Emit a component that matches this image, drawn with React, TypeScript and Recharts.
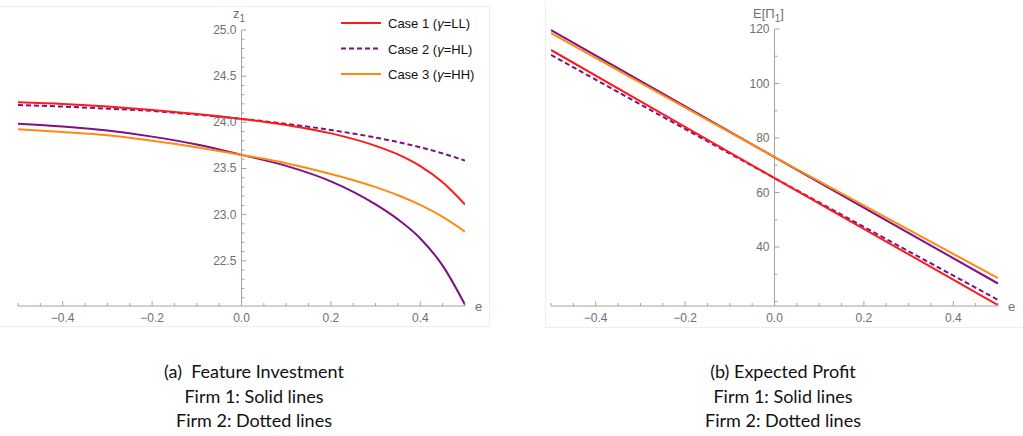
import React from 'react';
import { LineChart, Line, XAxis, YAxis, ReferenceLine } from 'recharts';

// ---------- data: (a) Feature Investment ----------
const eFeature = [-0.5, -0.4, -0.3, -0.2, -0.1, 0, 0.1, 0.2, 0.3, 0.35, 0.4, 0.45, 0.5];
const zCase1 = [24.217, 24.199, 24.17, 24.134, 24.09, 24.037, 23.972, 23.88, 23.745, 23.652, 23.525, 23.35, 23.11];
const zCase2Firm1 = [23.985, 23.955, 23.91, 23.845, 23.76, 23.647, 23.528, 23.36, 23.11, 22.948, 22.742, 22.447, 22.024];
const zCase2Firm2 = [24.188, 24.17, 24.148, 24.123, 24.083, 24.037, 23.983, 23.917, 23.835, 23.786, 23.729, 23.663, 23.585];
const zCase3 = [23.925, 23.895, 23.86, 23.8, 23.73, 23.647, 23.557, 23.44, 23.298, 23.21, 23.105, 22.975, 22.816];

// ---------- data: (b) Expected Profit ----------
const eProfit = [-0.5, -0.25, 0, 0.25, 0.5];
const pCase1 = [112.3, 88.8, 65.3, 42.0, 18.7];
const pCase2Firm1 = [119.6, 96.3, 73.0, 49.8, 26.6];
const pCase2Firm2 = [110.5, 87.8, 65.3, 42.9, 20.6];
const pCase3 = [118.5, 95.7, 73.0, 50.8, 28.6];

// ---------- ticks ----------
const xTicks = [-0.5, -0.45, -0.4, -0.35, -0.3, -0.25, -0.2, -0.15, -0.1, -0.05, 0, 0.05, 0.1, 0.15, 0.2, 0.25, 0.3, 0.35, 0.4, 0.45, 0.5];
const xMajor = [-0.4, -0.2, 0, 0.2, 0.4];
const zTicks = [22.1, 22.2, 22.3, 22.4, 22.5, 22.6, 22.7, 22.8, 22.9, 23.0, 23.1, 23.2, 23.3, 23.4, 23.5, 23.6, 23.7, 23.8, 23.9, 24.0, 24.1, 24.2, 24.3, 24.4, 24.5, 24.6, 24.7, 24.8, 24.9, 25.0];
const zMajor = [22.5, 23.0, 23.5, 24.0, 24.5, 25.0];
const pTicks = [20, 30, 40, 50, 60, 70, 80, 90, 100, 110, 120];
const pMajor = [40, 60, 80, 100, 120];

// ---------- legend ----------
const legendCases = ['Case 1', 'Case 2', 'Case 3'];
const legendGammas = ['LL', 'HL', 'HH'];

const RED = '#ff1a1a';
const PURPLE = '#7f0f83';
const ORANGE = '#ff8a10';
const AXIS = '#a4a4a4';
const LABEL = '#6f6f6f';
const TICK_FONT = 'Arial, "Liberation Sans", sans-serif';

const featureData = eFeature.map((e, i) => ({ e, c1: zCase1[i], c2f1: zCase2Firm1[i], c2f2: zCase2Firm2[i], c3: zCase3[i] }));
const profitData = eProfit.map((e, i) => ({ e, c1: pCase1[i], c2f1: pCase2Firm1[i], c2f2: pCase2Firm2[i], c3: pCase3[i] }));

const isIn = (arr: number[], v: number) => arr.some((m) => Math.abs(m - v) < 1e-9);
const fmtX = (v: number) => (Math.abs(v) < 1e-9 ? '0.0' : v < 0 ? '\u2212' + Math.abs(v).toFixed(1) : v.toFixed(1));

function makeXTick(axisY: number) {
  return (props: any) => {
    const { x, payload } = props;
    const v = payload.value;
    const major = isIn(xMajor, v);
    return (
      <g>
        <line x1={x} x2={x} y1={axisY} y2={axisY - (major ? 5 : 3)} stroke={AXIS} strokeWidth={1} />
        {major && (
          <text x={x} y={axisY + 16} textAnchor="middle" fill={LABEL} fontSize={12} fontFamily={TICK_FONT}>
            {fmtX(v)}
          </text>
        )}
      </g>
    );
  };
}

function makeYTick(axisX: number, majors: number[], fmt: (v: number) => string) {
  return (props: any) => {
    const { payload } = props;
    const y = props.y ?? payload.coordinate;
    const v = payload.value;
    const major = isIn(majors, v);
    return (
      <g>
        <line x1={axisX} x2={axisX + (major ? 5 : 3)} y1={y} y2={y} stroke={AXIS} strokeWidth={1} />
        {major && (
          <text x={axisX - 5} y={y + 4} textAnchor="end" fill={LABEL} fontSize={12} fontFamily={TICK_FONT}>
            {fmt(v)}
          </text>
        )}
      </g>
    );
  };
}

// chart geometry
const L = { w: 490, h: 330, top: 30, left: 18, right: 25, xh: 24, yw: 2 };
const R = { w: 493, h: 330, top: 29, left: 21, right: 25, xh: 24, yw: 2 };

export default function App() {
  const lAxisY = L.h - L.xh;
  const lAxisX = L.left + (L.w - L.left - L.right) / 2;
  const rAxisY = R.h - R.xh;
  const rAxisX = R.left + (R.w - R.left - R.right) / 2;

  return (
    <div style={{ position: 'absolute', left: 0, top: 0, width: 1023, height: 436, background: '#fff', overflow: 'hidden' }}>
      {/* panel frames */}
      <div style={{ position: 'absolute', left: 0, top: 6, width: 490, height: 321, borderTop: '1px solid #eeeeee', borderRight: '1px solid #eeeeee', borderBottom: '1px solid #eeeeee', boxSizing: 'border-box' }} />
      <div style={{ position: 'absolute', left: 545, top: 2, width: 480, height: 326, borderLeft: '1px solid #eeeeee', borderBottom: '1px solid #eeeeee', boxSizing: 'border-box' }} />

      {/* (a) Feature investment */}
      <div style={{ position: 'absolute', left: 0, top: 0 }}>
        <LineChart width={L.w} height={L.h} data={featureData} margin={{ top: L.top, right: L.right, left: L.left - L.yw, bottom: 0 }}>
          <XAxis dataKey="e" type="number" domain={[-0.5, 0.5]} ticks={xTicks} interval={0} allowDataOverflow height={L.xh}
            axisLine={{ stroke: AXIS }} tickLine={false} tick={makeXTick(lAxisY)} />
          <YAxis type="number" domain={[22.01, 25.0]} ticks={zTicks} interval={0} allowDataOverflow width={L.yw}
            axisLine={false} tickLine={false} tick={makeYTick(lAxisX, zMajor, (v) => v.toFixed(1))} />
          <ReferenceLine x={0} stroke={AXIS} strokeWidth={1} />
          <Line type="monotone" dataKey="c2f2" stroke={PURPLE} strokeWidth={2} strokeDasharray="5 3" dot={false} isAnimationActive={false} />
          <Line type="monotone" dataKey="c1" stroke={RED} strokeWidth={2} dot={false} isAnimationActive={false} />
          <Line type="monotone" dataKey="c2f1" stroke={PURPLE} strokeWidth={2} dot={false} isAnimationActive={false} />
          <Line type="monotone" dataKey="c3" stroke={ORANGE} strokeWidth={2} dot={false} isAnimationActive={false} />
        </LineChart>
      </div>

      {/* (b) Expected profit */}
      <div style={{ position: 'absolute', left: 530, top: 0 }}>
        <LineChart width={R.w} height={R.h} data={profitData} margin={{ top: R.top, right: R.right, left: R.left - R.yw, bottom: 0 }}>
          <XAxis dataKey="e" type="number" domain={[-0.5, 0.5]} ticks={xTicks} interval={0} allowDataOverflow height={R.xh}
            axisLine={{ stroke: AXIS }} tickLine={false} tick={makeXTick(rAxisY)} />
          <YAxis type="number" domain={[18.35, 120]} ticks={pTicks} interval={0} allowDataOverflow width={R.yw}
            axisLine={false} tickLine={false} tick={makeYTick(rAxisX, pMajor, (v) => String(v))} />
          <ReferenceLine x={0} stroke={AXIS} strokeWidth={1} />
          <Line type="linear" dataKey="c2f2" stroke={PURPLE} strokeWidth={2} strokeDasharray="5 3" dot={false} isAnimationActive={false} />
          <Line type="linear" dataKey="c1" stroke={RED} strokeWidth={2} dot={false} isAnimationActive={false} />
          <Line type="linear" dataKey="c2f1" stroke={PURPLE} strokeWidth={2} dot={false} isAnimationActive={false} />
          <Line type="linear" dataKey="c3" stroke={ORANGE} strokeWidth={2} dot={false} isAnimationActive={false} />
        </LineChart>
      </div>

      {/* axis labels and legend */}
      <svg width={1023} height={436} style={{ position: 'absolute', left: 0, top: 0, pointerEvents: 'none' }}>
        <text x={233} y={18} fill={LABEL} fontSize={13} fontFamily={TICK_FONT}>
          z<tspan fontSize={10} dy={4}>1</tspan>
        </text>
        <text x={475} y={311} fill={LABEL} fontSize={13} fontFamily={TICK_FONT}>e</text>
        <text x={753} y={18} fill={LABEL} fontSize={13} fontFamily={TICK_FONT}>
          E[Π<tspan fontSize={10} dy={4}>1</tspan><tspan dy={-4}>]</tspan>
        </text>
        <text x={1008} y={311} fill={LABEL} fontSize={13} fontFamily={TICK_FONT}>e</text>

        {legendCases.map((c, i) => {
          const y = 23 + i * 25.5;
          const color = i === 0 ? RED : i === 1 ? PURPLE : ORANGE;
          return (
            <g key={c}>
              <line x1={341} x2={381} y1={y} y2={y} stroke={color} strokeWidth={2} strokeDasharray={i === 1 ? '5 3' : undefined} />
              <text x={388} y={y + 5} fill="#111" fontSize={13} fontFamily={TICK_FONT}>
                {c} (<tspan fontStyle="italic">γ</tspan>={legendGammas[i]})
              </text>
            </g>
          );
        })}
      </svg>

      {/* captions */}
      <div style={{ position: 'absolute', left: 104, top: 359, width: 300, textAlign: 'center', fontFamily: 'Lato, "Open Sans", sans-serif', fontSize: 18, lineHeight: '24.5px', color: '#111', whiteSpace: 'pre' }}>
        {'(a)  Feature Investment\nFirm 1: Solid lines\nFirm 2: Dotted lines'}
      </div>
      <div style={{ position: 'absolute', left: 633, top: 359, width: 300, textAlign: 'center', fontFamily: 'Lato, "Open Sans", sans-serif', fontSize: 18, lineHeight: '24.5px', color: '#111', whiteSpace: 'pre' }}>
        {'(b) Expected Profit\nFirm 1: Solid lines\nFirm 2: Dotted lines'}
      </div>
    </div>
  );
}
